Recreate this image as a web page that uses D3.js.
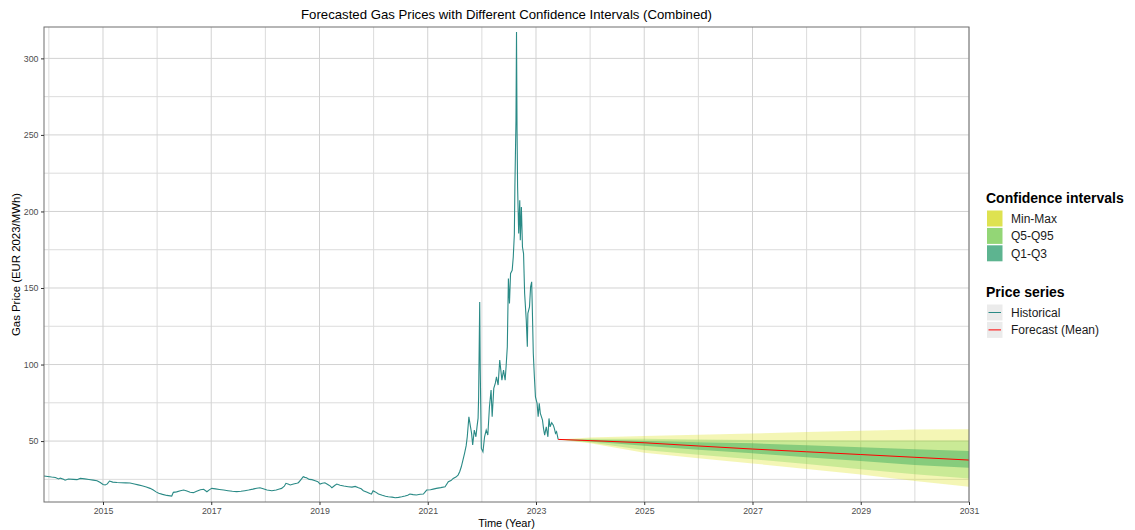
<!DOCTYPE html>
<html>
<head>
<meta charset="utf-8">
<script src="https://cdn.jsdelivr.net/npm/d3@7"></script>
<style>
body{margin:0;background:#fff;}
text{font-family:"Liberation Sans",Arial,sans-serif;}
</style>
</head>
<body>
<svg id="chart" width="1135" height="530"></svg>
<script>

// historical gas price (decimal year, EUR 2023/MWh)
var histYear = [2013.91,2013.98,2014.05,2014.12,2014.18,2014.21,2014.27,2014.30,2014.36,2014.45,2014.52,2014.58,2014.66,2014.74,2014.82,2014.89,2014.95,
  2015.00,2015.04,2015.08,2015.12,2015.18,2015.26,2015.34,2015.42,2015.50,2015.58,2015.65,2015.72,2015.80,2015.87,2015.93,2015.98,
  2016.03,2016.10,2016.18,2016.27,2016.30,2016.36,2016.43,2016.49,2016.55,2016.61,2016.67,2016.73,2016.80,2016.86,2016.92,2016.97,
  2017.01,2017.08,2017.15,2017.23,2017.31,2017.39,2017.47,2017.55,2017.62,2017.69,2017.77,2017.84,2017.90,2017.96,
  2018.03,2018.12,2018.20,2018.26,2018.30,2018.35,2018.38,2018.43,2018.46,2018.52,2018.58,2018.61,2018.65,2018.70,2018.73,2018.76,2018.81,2018.86,2018.92,2018.97,
  2019.01,2019.05,2019.10,2019.16,2019.20,2019.23,2019.28,2019.32,2019.38,2019.45,2019.53,2019.60,2019.66,2019.72,2019.77,2019.81,2019.88,2019.93,2019.96,2019.99,
  2020.03,2020.09,2020.16,2020.22,2020.27,2020.34,2020.40,2020.46,2020.52,2020.58,2020.63,2020.67,2020.73,2020.79,2020.86,2020.92,2020.98,
  2021.05,2021.10,2021.16,2021.24,2021.32,2021.38,2021.43,2021.47,2021.52,2021.56,2021.59,2021.62,2021.65,2021.68,2021.71,2021.73,2021.76,2021.79,2021.81,2021.83,2021.86,2021.89,2021.91,2021.93,2021.94,2021.96,2021.97,2021.99,
  2022.02,2022.05,2022.08,2022.11,2022.14,2022.17,2022.19,2022.22,2022.25,2022.27,2022.30,2022.33,2022.37,2022.40,2022.43,2022.45,2022.47,2022.49,2022.51,2022.53,2022.56,2022.58,2022.60,2022.61,2022.63,2022.64,2022.65,2022.66,2022.68,2022.70,2022.71,2022.73,2022.75,2022.77,2022.79,2022.82,2022.84,2022.85,2022.88,2022.90,2022.92,2022.93,2022.95,2022.97,2022.99,
  2023.02,2023.04,2023.06,2023.08,2023.10,2023.12,2023.14,2023.16,2023.19,2023.22,2023.24,2023.26,2023.29,2023.32,2023.34,2023.36,2023.38,2023.41];
var histPrice = [27.2,26.9,26.5,26.2,25.3,25.8,25.0,24.4,25.2,25.0,24.8,25.6,25.3,24.9,24.5,24.1,22.9,
  21.6,21.3,22.0,23.9,23.2,22.9,22.8,22.7,22.6,22.0,21.4,20.8,20.0,19.1,18.0,16.8,
  15.9,15.2,14.5,14.1,16.5,16.8,17.6,18.0,17.4,16.6,16.3,17.2,18.2,18.5,16.9,18.3,
  19.1,18.8,18.4,18.0,17.6,17.2,17.0,17.2,17.6,18.0,18.6,19.2,19.5,18.8,
  18.0,17.6,18.0,18.7,19.1,20.5,22.4,21.8,21.3,22.0,22.4,22.8,24.5,26.7,26.3,26.1,25.0,24.8,24.1,23.5,
  21.9,22.5,22.8,21.5,20.6,19.5,21.0,21.9,21.2,20.6,20.2,19.9,20.4,19.5,18.8,17.6,16.6,15.8,15.4,17.6,
  16.8,15.4,14.6,14.0,13.6,13.4,13.0,13.2,13.6,14.1,14.6,15.4,15.0,14.8,15.3,15.4,18.0,
  18.2,18.6,19.1,19.6,20.2,23.4,24.2,25.6,26.5,27.8,30.0,33.2,37.5,42.0,47.0,52.8,65.9,59.3,55.0,47.4,57.2,52.8,59.3,65.0,78.9,140.9,96.3,45.2,
  43.0,52.8,57.2,54.0,72.4,83.3,65.9,84.4,88.0,92.0,86.6,102.9,89.8,96.3,89.8,100.0,111.6,156.2,139.9,159.5,161.6,170.3,185.0,216.0,259.5,317.2,253.0,216.0,185.6,207.3,181.2,202.9,176.8,172.5,146.4,129.0,111.6,133.4,137.7,150.7,154.0,139.9,107.2,92.0,78.9,
  74.6,65.9,74.6,68.1,66.0,63.7,58.0,53.9,59.3,52.8,64.8,59.3,62.0,60.4,58.2,55.0,56.1,51.1];

// forecast
var fcYear = [2023.41,2024,2025,2026,2027,2028,2029,2030,2031];
var fcMean = [51.1,50.3,48.9,46.8,44.8,43.0,41.2,39.4,37.6];
var fcMin  = [51.1,48.5,42.4,38.7,35.4,31.8,28.2,24.0,20.2];
var fcMax  = [51.1,52.4,53.3,54.1,55.0,55.9,56.8,57.5,57.8];
var fcQ5   = [51.1,49.0,44.1,41.0,38.1,35.0,31.6,28.3,25.6];
var fcQ95  = [51.1,51.6,51.5,51.0,50.7,50.5,50.4,50.3,50.3];
var fcQ1   = [51.1,49.8,47.0,44.4,42.0,39.5,37.0,34.3,32.6];
var fcQ3   = [51.1,50.8,50.0,49.2,48.5,47.3,46.0,44.6,43.5];

var xMajor = [2015,2017,2019,2021,2023,2025,2027,2029,2031];
var xMinor = [2014,2016,2018,2020,2022,2024,2026,2028,2030];
var yMajor = [50,100,150,200,250,300];
var yMinor = [25,75,125,175,225,275];

var bandNames = ["Min-Max","Q5-Q95","Q1-Q3"];
var seriesNames = ["Historical","Forecast (Mean)"];

var svg = d3.select("#chart");
var pL = 44, pT = 27, pR = 969, pB = 502;

var x = d3.scaleLinear().domain([histYear[0], 2031]).range([pL, pR]);
var y = d3.scaleLinear().domain([10.2, 320.5]).range([pB, pT]);

// grid
function hGrid(vals, col){
  svg.append("g").selectAll("line").data(vals).enter().append("line")
    .attr("x1", pL).attr("x2", pR).attr("y1", d => y(d)).attr("y2", d => y(d))
    .attr("stroke", col).attr("stroke-width", 1);
}
function vGrid(vals, col){
  svg.append("g").selectAll("line").data(vals).enter().append("line")
    .attr("y1", pT).attr("y2", pB).attr("x1", d => x(d)).attr("x2", d => x(d))
    .attr("stroke", col).attr("stroke-width", 1);
}
hGrid(yMinor, "#dcdcdc"); vGrid(xMinor, "#dcdcdc");
hGrid(yMajor, "#d2d2d2"); vGrid(xMajor, "#d2d2d2");

// bands
var fc = fcYear.map((v, i) => ({year: v, mean: fcMean[i], min: fcMin[i], max: fcMax[i],
  q5: fcQ5[i], q95: fcQ95[i], q1: fcQ1[i], q3: fcQ3[i]}));

function band(lo, hi, col, op){
  var a = d3.area().x(d => x(d.year)).y0(d => y(d[lo])).y1(d => y(d[hi]));
  svg.append("path").datum(fc).attr("d", a)
    .attr("fill", col).attr("fill-opacity", op);
}
band("min", "max", "#dce319", 0.32);
band("q5", "q95", "#73d055", 0.32);
band("q1", "q3", "#43ae62", 0.5);

// lines
var hist = histYear.map((v, i) => ({year: v, price: histPrice[i]}));
svg.append("path").datum(hist)
  .attr("d", d3.line().x(d => x(d.year)).y(d => y(d.price)))
  .attr("fill", "none").attr("stroke", "#2a8a86").attr("stroke-width", 1.1);
svg.append("path").datum(fc)
  .attr("d", d3.line().x(d => x(d.year)).y(d => y(d.mean)))
  .attr("fill", "none").attr("stroke", "#ff0000").attr("stroke-width", 1);

// panel border
svg.append("rect").attr("x", pL).attr("y", pT)
  .attr("width", pR - pL).attr("height", pB - pT)
  .attr("fill", "none").attr("stroke", "#6e6e6e").attr("stroke-width", 1);

// axes
var yAxis = svg.append("g").attr("transform", "translate(" + pL + ",0)")
  .call(d3.axisLeft(y).tickValues(yMajor).tickSize(3).tickPadding(2.5));
var xAxis = svg.append("g").attr("transform", "translate(0," + pB + ")")
  .call(d3.axisBottom(x).tickValues(xMajor).tickFormat(d3.format("d")).tickSize(3).tickPadding(2.5));
[yAxis, xAxis].forEach(function(g){
  g.select(".domain").remove();
  g.selectAll(".tick line").attr("stroke", "#333");
  g.selectAll(".tick text").attr("fill", "#4d4d4d").style("font-size", "8.8px")
    .style("font-family", "'Liberation Sans',Arial,sans-serif");
});

// titles
svg.append("text").attr("x", (pL + pR) / 2).attr("y", 19).attr("text-anchor", "middle")
  .style("font-size", "13.2px").attr("fill", "#000")
  .text("Forecasted Gas Prices with Different Confidence Intervals (Combined)");
svg.append("text").attr("x", (pL + pR) / 2).attr("y", 527).attr("text-anchor", "middle")
  .style("font-size", "11px").attr("fill", "#000").text("Time (Year)");
svg.append("text").attr("transform", "translate(19.5," + ((pT + pB) / 2) + ") rotate(-90)")
  .attr("text-anchor", "middle").style("font-size", "11.4px").attr("fill", "#000")
  .text("Gas Price (EUR 2023/MWh)");

// legend
var lg = svg.append("g");
var keyColors = ["#dee250", "#93d676", "#5db490"];
lg.append("text").attr("x", 986).attr("y", 203).style("font-size", "14px")
  .style("font-weight", "bold").text("Confidence intervals");
bandNames.forEach(function(n, i){
  var ky = 210.5 + i * 17.4;
  lg.append("rect").attr("x", 987).attr("y", ky).attr("width", 15.5).attr("height", 16)
    .attr("fill", keyColors[i]);
  lg.append("text").attr("x", 1011).attr("y", ky + 12.5).style("font-size", "12px")
    .attr("fill", "#1a1a1a").text(n);
});
lg.append("text").attr("x", 986).attr("y", 296.5).style("font-size", "14px")
  .style("font-weight", "bold").text("Price series");
var lineColors = ["#2a8a86", "#ff0000"];
seriesNames.forEach(function(n, i){
  var ky = 304.5 + i * 17.4;
  lg.append("rect").attr("x", 987).attr("y", ky).attr("width", 15.5).attr("height", 16)
    .attr("fill", "#ebebeb");
  lg.append("line").attr("x1", 988.5).attr("x2", 1001).attr("y1", ky + 8).attr("y2", ky + 8)
    .attr("stroke", lineColors[i]).attr("stroke-width", 1);
  lg.append("text").attr("x", 1011).attr("y", ky + 12.5).style("font-size", "12px")
    .attr("fill", "#1a1a1a").text(n);
});

</script>
</body>
</html>
